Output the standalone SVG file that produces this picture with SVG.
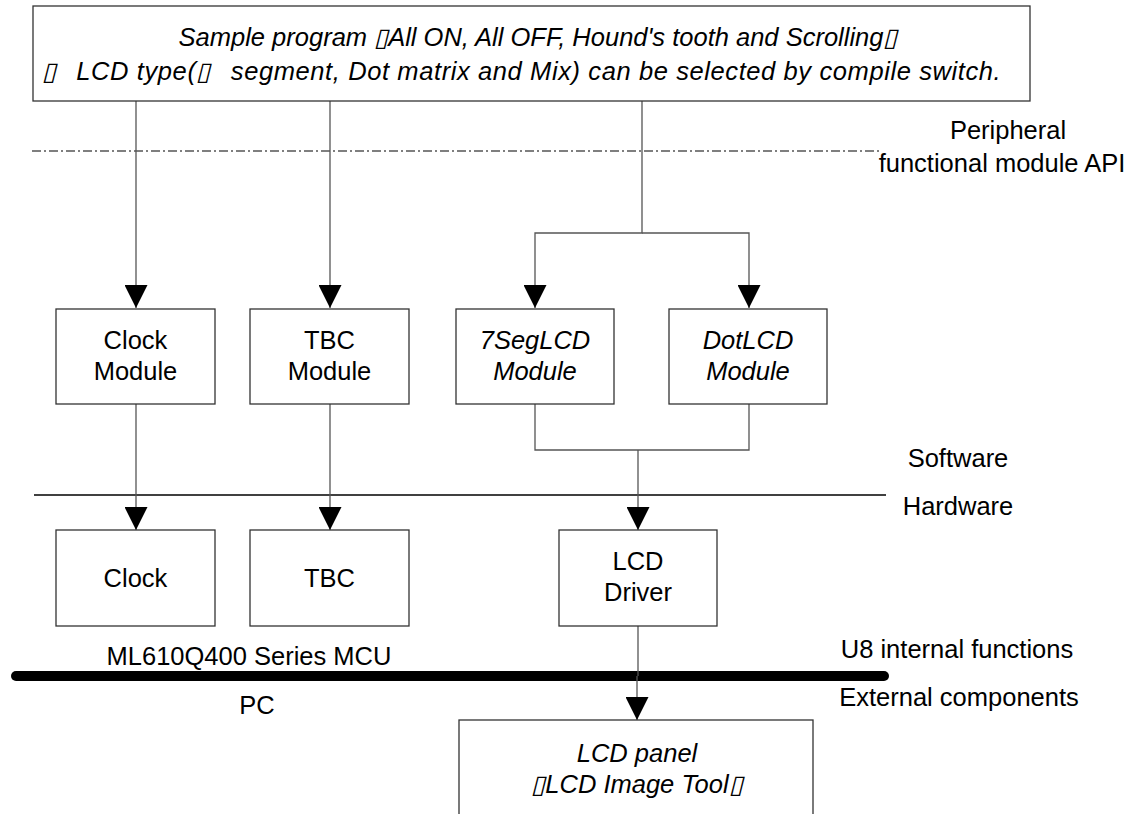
<svg xmlns="http://www.w3.org/2000/svg" width="1141" height="814" viewBox="0 0 1141 814">
<defs>
<marker id="arr" markerUnits="userSpaceOnUse" markerWidth="23" markerHeight="23" refX="23" refY="11.5" orient="auto">
<path d="M0,0 L23,11.5 L0,23 z" fill="#000"/>
</marker>
<style>
.box{fill:#fff;stroke:#333;stroke-width:1.3}
.t{font-family:"Liberation Sans",Arial,sans-serif;font-size:25.5px;fill:#000;text-anchor:middle}
.i{font-style:italic}
.c{fill:none;stroke:#555;stroke-width:1.3}
.lbl{font-family:"Liberation Sans",Arial,sans-serif;font-size:25.5px;fill:#000;text-anchor:middle}
</style>
</defs>
<rect width="1141" height="814" fill="#fff"/>

<g id="dividers">
<line x1="32" y1="151" x2="880" y2="151" stroke="#000" stroke-width="1.2" stroke-dasharray="9 3 2 3"/>
<line x1="34" y1="495" x2="886" y2="495" stroke="#000" stroke-width="1.5"/>
<line x1="16" y1="676" x2="884" y2="676" stroke="#000" stroke-width="10" stroke-linecap="round"/>
</g>

<g id="connectors">
<line class="c" x1="136" y1="101" x2="136" y2="308" marker-end="url(#arr)"/>
<line class="c" x1="330" y1="101" x2="330" y2="308" marker-end="url(#arr)"/>
<polyline class="c" points="642,101 642,233 535,233 535,308" marker-end="url(#arr)"/>
<polyline class="c" points="642,233 749,233 749,308" marker-end="url(#arr)"/>
<line class="c" x1="136" y1="404" x2="136" y2="530" marker-end="url(#arr)"/>
<line class="c" x1="330" y1="404" x2="330" y2="530" marker-end="url(#arr)"/>
<polyline class="c" points="535,404 535,450 749,450 749,404"/>
<line class="c" x1="638" y1="450" x2="638" y2="530" marker-end="url(#arr)"/>
<line class="c" x1="638" y1="626" x2="638" y2="676"/>
<line class="c" x1="637" y1="676" x2="637" y2="720" marker-end="url(#arr)"/>
</g>

<g id="top">
<rect class="box" x="33" y="6" width="997" height="95"/>
<text class="t i" x="538" y="46">Sample program ▯All ON, All OFF, Hound's tooth and Scrolling▯</text>
<text class="t i" x="42" y="80" style="text-anchor:start;letter-spacing:0.6px">▯<tspan dx="12"> LCD type(▯</tspan><tspan dx="12"> segment, Dot matrix and Mix) can be selected by compile switch.</tspan></text>
</g>

<g id="clock-module">
<rect class="box" x="56" y="309" width="159" height="95"/>
<text class="t" x="135.5" y="349">Clock</text>
<text class="t" x="135.5" y="380">Module</text>
</g>
<g id="tbc-module">
<rect class="box" x="250" y="309" width="159" height="95"/>
<text class="t" x="329.5" y="349">TBC</text>
<text class="t" x="329.5" y="380">Module</text>
</g>
<g id="seg-module">
<rect class="box" x="456" y="309" width="158" height="95"/>
<text class="t i" x="535" y="349">7SegLCD</text>
<text class="t i" x="535" y="380">Module</text>
</g>
<g id="dot-module">
<rect class="box" x="669" y="309" width="158" height="95"/>
<text class="t i" x="748" y="349">DotLCD</text>
<text class="t i" x="748" y="380">Module</text>
</g>

<g id="clock">
<rect class="box" x="56" y="530" width="159" height="96"/>
<text class="t" x="135.5" y="587">Clock</text>
</g>
<g id="tbc">
<rect class="box" x="250" y="530" width="159" height="96"/>
<text class="t" x="329.5" y="587">TBC</text>
</g>
<g id="lcd-driver">
<rect class="box" x="559" y="530" width="158" height="96"/>
<text class="t" x="638" y="570">LCD</text>
<text class="t" x="638" y="601">Driver</text>
</g>
<g id="lcd-panel">
<rect class="box" x="459" y="720" width="354" height="110"/>
<text class="t i" x="637" y="762">LCD panel</text>
<text class="t i" x="637" y="793">▯LCD Image Tool▯</text>
</g>

<g id="labels">
<text class="lbl" x="1008" y="139">Peripheral</text>
<text class="lbl" x="1002" y="172">functional module API</text>
<text class="lbl" x="958" y="467">Software</text>
<text class="lbl" x="958" y="515">Hardware</text>
<text class="lbl" x="957" y="658">U8 internal functions</text>
<text class="lbl" x="959" y="706">External components</text>
<text class="lbl" x="249" y="665">ML610Q400 Series MCU</text>
<text class="lbl" x="257" y="714">PC</text>
</g>
</svg>
